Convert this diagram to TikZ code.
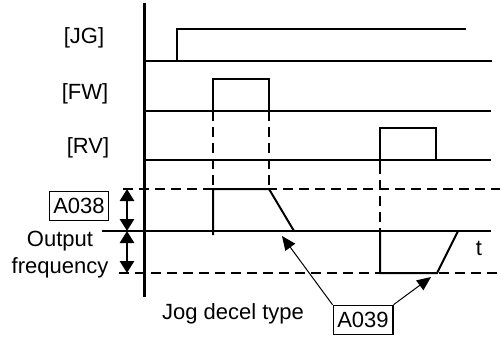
\documentclass[tikz,border=0pt]{standalone}
\usepackage{fontspec}
\setmainfont{Liberation Sans}
\usetikzlibrary{arrows.meta}

\begin{document}
\begin{tikzpicture}[x=0.5pt,y=-0.5pt]
  \tikzset{axisline/.style={draw=black,line width=1.5pt}}
  \tikzset{levelline/.style={draw=black,line width=1pt}}
  \tikzset{sigline/.style={draw=black,line width=1pt}}
  \tikzset{guideline/.style={draw=black,line width=1pt,dash pattern=on 5pt off 3pt}}
  \tikzset{siglabel/.style={font=\fontsize{11}{13.5}\selectfont,inner sep=0pt,text=black}}
  \tikzset{parambox/.style={draw=black,line width=0.8pt,font=\fontsize{11}{13.5}\selectfont,inner sep=2pt,minimum height=14.5pt}}
  \tikzset{spanarrow/.style={line width=1.4pt,{Triangle[width=7pt,length=6pt]}-{Triangle[width=7pt,length=6pt]}}}
  \tikzset{pointer/.style={line width=0.5pt,-{Triangle[width=6pt,length=7pt]}}}
  \useasboundingbox (0,0) rectangle (501,339);
  % signal names
  \node[siglabel] (jg) at (84,38) {[JG]};
  \node[siglabel] (fw) at (85,94) {[FW]};
  \node[siglabel] (rv) at (88,148) {[RV]};
  \node[siglabel,align=center] (outfreq) at (60,255) {Output\\frequency};
  \node[siglabel] (tlbl) at (479,248) {t};
  \node[siglabel] (jogtype) at (233,314) {Jog decel type};
  \node[parambox] (a038) at (79,206) {A038};
  \node[parambox] (a039) at (363,320) {A039};
  % time axis
  \draw[axisline] (144,3) -- (144,297);
  % JG
  \draw[levelline] (144,61) -- (492,61);
  \draw[sigline] (177,61) -- (177,29) -- (466,29);
  % FW
  \draw[levelline] (144,111) -- (491,111);
  \draw[sigline] (213,111) -- (213,79) -- (269,79) -- (269,111);
  % RV
  \draw[levelline] (144,160) -- (491,160);
  \draw[sigline] (380,164) -- (380,128) -- (436,128) -- (436,160);
  % guides
  \draw[guideline] (213,111) -- (213,189);
  \draw[guideline] (269,111) -- (269,189);
  \draw[guideline] (380,164) -- (380,231);
  \draw[guideline] (123,189) -- (500,189);
  \draw[guideline] (119,273) -- (500,273);
  % output frequency
  \draw[levelline] (102,231) -- (491,231);
  \draw[sigline] (213,235) -- (213,189) -- (269,189) -- (294,231);
  \draw[sigline] (380,231) -- (380,273) -- (437,273) -- (458,231);
  \coordinate (fmax) at (127,189);
  \coordinate (fzero) at (127,231);
  \coordinate (fmin) at (127,273);
  \draw[spanarrow] (fzero) -- (fmax);
  \draw[spanarrow] (fzero) -- (fmin);
  \coordinate (fwdstop) at (282,236);
  \coordinate (revstop) at (431,277);
  \draw[pointer] (a039.north west) -- (fwdstop);
  \draw[pointer] (a039.north east) -- (revstop);
\end{tikzpicture}
\end{document}
